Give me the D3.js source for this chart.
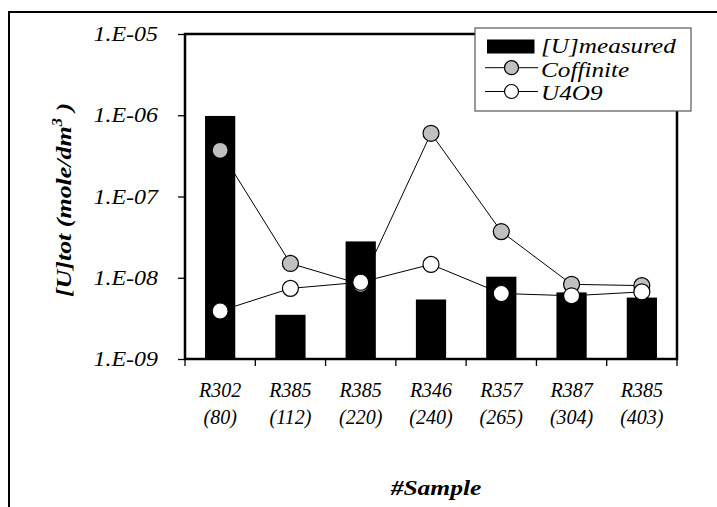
<!DOCTYPE html>
<html>
<head>
<meta charset="utf-8">
<script src="https://cdn.jsdelivr.net/npm/d3@7"></script>
</head>
<body style="margin:0">
<script>
// values
const sampleIds = ["R302", "R385", "R385", "R346", "R357", "R387", "R385"];
const depths = ["(80)", "(112)", "(220)", "(240)", "(265)", "(304)", "(403)"];
const measured = [9.8e-7, 3.5e-9, 2.8e-8, 5.4e-9, 1.03e-8, 6.6e-9, 5.7e-9];
const coffinite = [3.7e-7, 1.5e-8, 8.3e-9, 6.0e-7, 3.7e-8, 8.3e-9, 8.0e-9];
const u4o9 = [3.9e-9, 7.4e-9, 8.8e-9, 1.46e-8, 6.4e-9, 6.0e-9, 6.7e-9];
const yTicks = [1e-9, 1e-8, 1e-7, 1e-6, 1e-5];
const yTickLabels = ["1.E-09", "1.E-08", "1.E-07", "1.E-06", "1.E-05"];
const legendLabels = ["[U]measured", "Coffinite", "U4O9"];

const width = 717, height = 507;
const pLeft = 185, pRight = 677, pTop = 34, pBottom = 359;

function times(sel, size, bold) {
  return sel
      .style("font-family", "Liberation Serif")
      .style("font-style", "italic")
      .style("font-weight", bold ? "bold" : null)
      .style("font-size", size + "px");
}

const keys = sampleIds.map((s, i) => s + " " + depths[i]);

const svg = d3.select("body").append("svg")
    .attr("width", width)
    .attr("height", height);

// outer frame, only top and left edges in view
svg.append("path")
    .attr("d", `M9,${height} V12 H${width}`)
    .attr("fill", "none")
    .attr("stroke", "#000")
    .attr("stroke-width", 2);

const x = d3.scaleBand().domain(keys).range([pLeft, pRight]).padding(0);
const y = d3.scaleLog().domain([1e-9, 1e-5]).range([pBottom, pTop]);
const barW = x.bandwidth() * 0.43;

// bars
svg.append("g")
  .selectAll("rect")
  .data(measured)
  .join("rect")
    .attr("x", (d, i) => x(keys[i]) + x.bandwidth() / 2 - barW / 2)
    .attr("y", d => y(d))
    .attr("width", barW)
    .attr("height", d => y(1e-9) - y(d))
    .attr("fill", "#000");

// plot border
svg.append("rect")
    .attr("x", pLeft).attr("y", pTop)
    .attr("width", pRight - pLeft).attr("height", pBottom - pTop)
    .attr("fill", "none")
    .attr("stroke", "#000")
    .attr("stroke-width", 2.5);

// y ticks
const yAxis = svg.append("g")
    .attr("transform", `translate(${pLeft},0)`)
    .call(d3.axisLeft(y).tickValues(yTicks).tickSize(7).tickFormat(""));
yAxis.select(".domain").remove();
yAxis.selectAll("line").attr("stroke", "#000").attr("stroke-width", 1.3);

// y labels, a bit wider than the font
const ySx = 1.14;
svg.append("g").selectAll("text")
  .data(yTicks)
  .join("text")
    .attr("transform", d => `translate(${pLeft - 27},${y(d) + 7}) scale(${ySx},1)`)
    .attr("text-anchor", "end")
    .text((d, i) => yTickLabels[i])
    .call(times, 21);

// x ticks sit on the category boundaries
const bounds = keys.map(k => x(k)).concat([x(keys[keys.length - 1]) + x.bandwidth()]);
svg.append("g")
  .selectAll("line")
  .data(bounds)
  .join("line")
    .attr("x1", d => d).attr("x2", d => d)
    .attr("y1", pBottom).attr("y2", pBottom + 7)
    .attr("stroke", "#000")
    .attr("stroke-width", 1.3);

svg.append("g").selectAll("text")
  .data(keys)
  .join("text")
    .attr("x", d => x(d) + x.bandwidth() / 2)
    .attr("y", 397)
    .attr("text-anchor", "middle")
    .text((d, i) => sampleIds[i])
    .call(times, 20);
svg.append("g").selectAll("text")
  .data(keys)
  .join("text")
    .attr("x", d => x(d) + x.bandwidth() / 2)
    .attr("y", 423.5)
    .attr("text-anchor", "middle")
    .text((d, i) => depths[i])
    .call(times, 20);

// lines + markers
const line = d3.line()
    .x((d, i) => x(keys[i]) + x.bandwidth() / 2)
    .y(d => y(d));

const series = [
  {values: coffinite, fill: "#c0c0c0"},
  {values: u4o9, fill: "#fff"}
];
series.forEach(s => {
  svg.append("path")
      .attr("d", line(s.values))
      .attr("fill", "none")
      .attr("stroke", "#000")
      .attr("stroke-width", 1);
});
series.forEach(s => {
  svg.append("g")
    .selectAll("circle")
    .data(s.values)
    .join("circle")
      .attr("cx", (d, i) => x(keys[i]) + x.bandwidth() / 2)
      .attr("cy", d => y(d))
      .attr("r", 8)
      .attr("fill", s.fill)
      .attr("stroke", "#000")
      .attr("stroke-width", 1.2);
});

// legend
const lg = svg.append("g");
lg.append("rect")
    .attr("x", 475).attr("y", 28)
    .attr("width", 216).attr("height", 83)
    .attr("fill", "#fff")
    .attr("stroke", "#555")
    .attr("stroke-width", 1.2);
lg.append("rect")
    .attr("x", 487).attr("y", 39.5)
    .attr("width", 47.5).attr("height", 14)
    .attr("fill", "#000");
[{cy: 67.7, fill: "#c0c0c0"}, {cy: 91.5, fill: "#fff"}].forEach(m => {
  lg.append("line")
      .attr("x1", 485).attr("x2", 538)
      .attr("y1", m.cy).attr("y2", m.cy)
      .attr("stroke", "#000").attr("stroke-width", 1);
  lg.append("circle")
      .attr("cx", 511.5).attr("cy", m.cy).attr("r", 7)
      .attr("fill", m.fill).attr("stroke", "#000").attr("stroke-width", 1.2);
});
const legSx = 1.2;
lg.selectAll("text.leg")
  .data(legendLabels)
  .join("text")
    .attr("class", "leg")
    .attr("transform", (d, i) => `translate(541,${[53.3, 76.7, 100][i]}) scale(${legSx},1)`)
    .text(d => d)
    .call(times, 21);

// axis titles
const yt = svg.append("text")
    .attr("transform", "translate(71,200) rotate(-90) scale(1.18,1)")
    .attr("text-anchor", "middle")
    .call(times, 22, true);
yt.append("tspan").text("[U]tot (mole/dm");
yt.append("tspan").attr("dy", -9).style("font-size", "14px").text("3");
yt.append("tspan").attr("dy", 9).text(" )");

svg.append("text")
    .attr("transform", "translate(436,495) scale(1.16,1)")
    .attr("text-anchor", "middle")
    .text("#Sample")
    .call(times, 22, true);
</script>
</body>
</html>
